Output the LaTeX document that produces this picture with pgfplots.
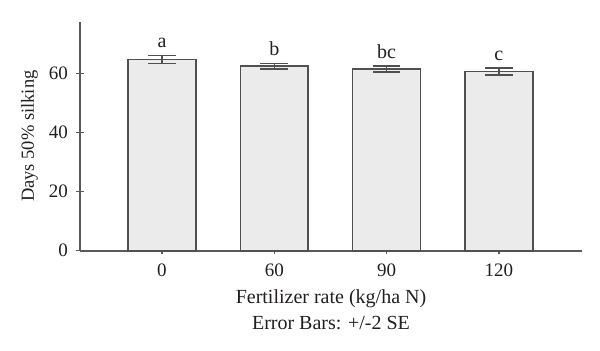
\documentclass[border=0pt]{standalone}
\usepackage{pgfplots}
\pgfplotsset{compat=1.18}
\usepackage{fontspec}
\setmainfont{Liberation Serif}
\definecolor{barfill}{RGB}{235,235,235}
\definecolor{bardraw}{RGB}{80,80,80}
\definecolor{axcol}{RGB}{90,90,90}
\definecolor{txt}{RGB}{35,31,32}
\begin{document}
\begin{tikzpicture}
\begin{axis}[
  scale only axis,
  width=502bp, height=229bp,
  axis lines=left,
  axis line style={-, draw=axcol, line width=1.7bp},
  xmin=-0.73, xmax=3.74,
  ymin=0, ymax=77.6,
  enlargelimits=false,
  clip=false,
  xtick={0,1,2,3},
  xticklabels={0,60,90,120},
  ytick={0,20,40,60},
  tick align=center,
  major tick length=7bp,
  tick style={draw=axcol, line width=1.2bp},
  x tick style={yshift=-1.8bp, /pgfplots/major tick length=3.6bp},
  tick label style={font=\fontsize{19bp}{22bp}\selectfont, text=txt},
  /pgf/number format/assume math mode=true,
  yticklabel style={xshift=-5bp},
  xticklabel style={yshift=-6bp},
  xlabel={Fertilizer rate (kg/ha N)},
  xlabel style={at={(axis description cs:0.5,0)}, anchor=base, yshift=-52.6bp, font=\fontsize{20bp}{24bp}\selectfont, text=txt},
  ylabel={Days 50\% silking},
  ylabel style={at={([xshift=-46bp]axis description cs:0,0.5)}, rotate=0, anchor=base, font=\fontsize{18.5bp}{22bp}\selectfont, text=txt},
]
\addplot[ybar, bar width=0.605, fill=barfill, draw=bardraw, line width=1.6bp,
  error bars/.cd, y dir=both, y explicit,
  error bar style={line width=1.5bp, draw=bardraw},
  error mark options={rotate=90, mark size=13.8bp, line width=1.5bp, draw=bardraw}]
  coordinates {
    (0,64.8) +- (0,1.4)
    (1,62.5) +- (0,1.0)
    (2,61.6) +- (0,1.0)
    (3,60.7) +- (0,1.2)
  };
\addplot[draw=none, mark=none, nodes near coords, point meta=explicit symbolic,
  every node near coord/.append style={anchor=base, inner sep=0pt, font=\fontsize{20bp}{24bp}\selectfont, text=txt}]
  coordinates {
    (0,68.8) [a]
    (1,66.1) [b]
    (2,65.2) [bc]
    (3,64.4) [c]
  };
\end{axis}
\node[anchor=base, font=\fontsize{20bp}{24bp}\selectfont, text=txt] at ([yshift=-78.6bp]current axis.south) {Error Bars: +/-2 SE};
\path (current axis.south west) ++(-80bp,-100.3bp) rectangle ++(600bp,351bp);
\end{tikzpicture}
\end{document}
